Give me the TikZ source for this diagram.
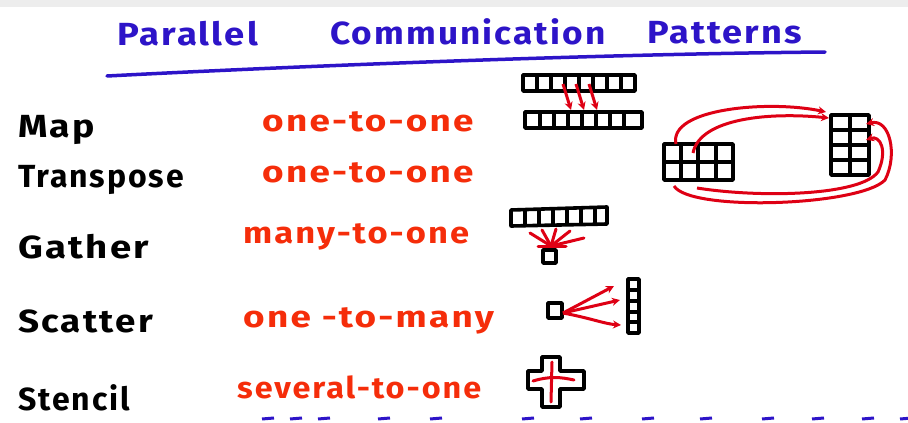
\documentclass[tikz,border=0pt]{standalone}
\usepackage{fontspec}
\setmainfont{Fira Sans}
\newfontfamily\handfont[LetterSpace=6]{Fira Sans}
\usetikzlibrary{arrows.meta}
\definecolor{penblue}{RGB}{45,20,200}
\definecolor{penred}{RGB}{245,45,10}
\definecolor{arrred}{RGB}{222,0,20}
\tikzset{
  pat/.style={anchor=base west,inner sep=0pt,font=\handfont\bfseries\fontsize{32}{34}\selectfont},
  kind/.style={anchor=base west,inner sep=0pt,text=penred,font=\handfont\bfseries\fontsize{30}{32}\selectfont},
  cell/.style={line width=3.6pt,black,line join=round},
  redline/.style={line width=3pt,arrred,-{Stealth[length=8pt,width=8pt]}},
  redtrace/.style={line width=3pt,arrred,line cap=round}
}
\begin{document}
\begin{tikzpicture}[x=1pt,y=-1pt]
    \useasboundingbox (0,0) rectangle (908,423);
    \fill[black!7] (0,0) rectangle (908,7);

    % titolo
    \node[pat,text=penblue,xscale=1.14] (tpar) at (117,45) {Parallel};
    \node[pat,text=penblue,xscale=1.1] (tcom) at (330,44) {Communication};
    \node[pat,text=penblue,xscale=1.13] (tpat) at (647,43) {Patterns};
    \draw[penblue,line width=3.5pt,line cap=round] (107,76) .. controls (300,66) and (600,54) .. (825,52);

    % nomi
    \node[pat,xscale=1.17] (map) at (18,137) {Map};
    \node[pat] (transp) at (18,187) {Transpose};
    \node[pat,xscale=1.2] (gath) at (18,258) {Gather};
    \node[pat,xscale=1.15] (scat) at (18,332) {Scatter};
    \node[pat] (sten) at (18,410) {Stencil};

    % tipi
    \node[kind,xscale=1.23] (k1) at (262,131) {one-to-one};
    \node[kind,xscale=1.23] (k2) at (262,182) {one-to-one};
    \node[kind,xscale=1.15] (k3) at (243,243) {many-to-one};
    \node[kind,xscale=1.23] (k4) at (243,327) {one -to-many};
    \node[kind,xscale=1.08] (k5) at (237,398) {several-to-one};

    % map
    \draw[cell] (523,75) rectangle (635,91);
    \foreach \x in {537,551,...,621} \draw[cell] (\x,75) -- (\x,91);
    \draw[cell] (525,112) rectangle (642,128);
    \foreach \x in {540,554,...,628} \draw[cell] (\x,112) -- (\x,128);
    \foreach \x in {563,576,589}
      \draw[redline] (\x,84) -- (\x+8,110);

    % transpose
    \draw[cell] (664,144) rectangle (733,180);
    \foreach \x in {681,698,716} \draw[cell] (\x,144) -- (\x,180);
    \draw[cell] (664,162) -- (733,162);
    \draw[cell] (831,115) rectangle (869,175);
    \draw[cell] (850,115) -- (850,175);
    \foreach \y in {130,145,160} \draw[cell] (831,\y) -- (869,\y);
    \draw[redline] (693,153) .. controls (700,118) and (770,112) .. (829,118);
    \draw[redline] (676,144) .. controls (668,108) and (770,100) .. (826,112);
    \draw[redline] (674,186) .. controls (690,212) and (860,206) .. (885,180)
      .. controls (898,155) and (890,118) .. (866,124);
    \draw[redline] (697,188) .. controls (760,198) and (860,196) .. (878,172)
      .. controls (888,150) and (880,135) .. (866,140);

    % gather
    \draw[cell] (511,210) -- (607,207) -- (607,224) -- (511,226) -- cycle;
    \foreach \x in {525,539,...,595} \draw[cell] (\x,209) -- (\x,225);
    \draw[cell] (543,250) rectangle (556,263);
    \foreach \x/\y in {530/233,542/230,556/229,570/231,584/238}
      \draw[redtrace] (\x,\y) -- (551,246);
    \draw[redtrace] (538,246) -- (566,246);

    % scatter
    \draw[cell] (548,303) rectangle (562,318);
    \draw[cell] (628,279) rectangle (639,333);
    \foreach \y in {290,301,312,322} \draw[cell] (628,\y) -- (639,\y);
    \draw[redline] (563,313) -- (614,286);
    \draw[redline] (563,313) -- (620,300);
    \draw[redline] (563,313) .. controls (590,318) and (605,324) .. (621,325);

    % stencil
    \draw[cell] (542,357) -- (560,357) -- (560,371) -- (584,371)
      -- (584,389) -- (560,389) -- (560,407) -- (542,407) -- (542,389)
      -- (528,389) -- (528,371) -- (542,371) -- cycle;
    \draw[redtrace] (552,362) -- (551,402);
    \draw[redtrace] (533,381) .. controls (550,376) and (560,377) .. (574,380);

    % riga successiva (tagliata)
    \foreach \x in {262,290,318,378,430,522,580,642,700,762,812,862,900}
      \draw[penblue,line width=3pt] (\x,419) -- (\x+12,418);
\end{tikzpicture}
\end{document}
